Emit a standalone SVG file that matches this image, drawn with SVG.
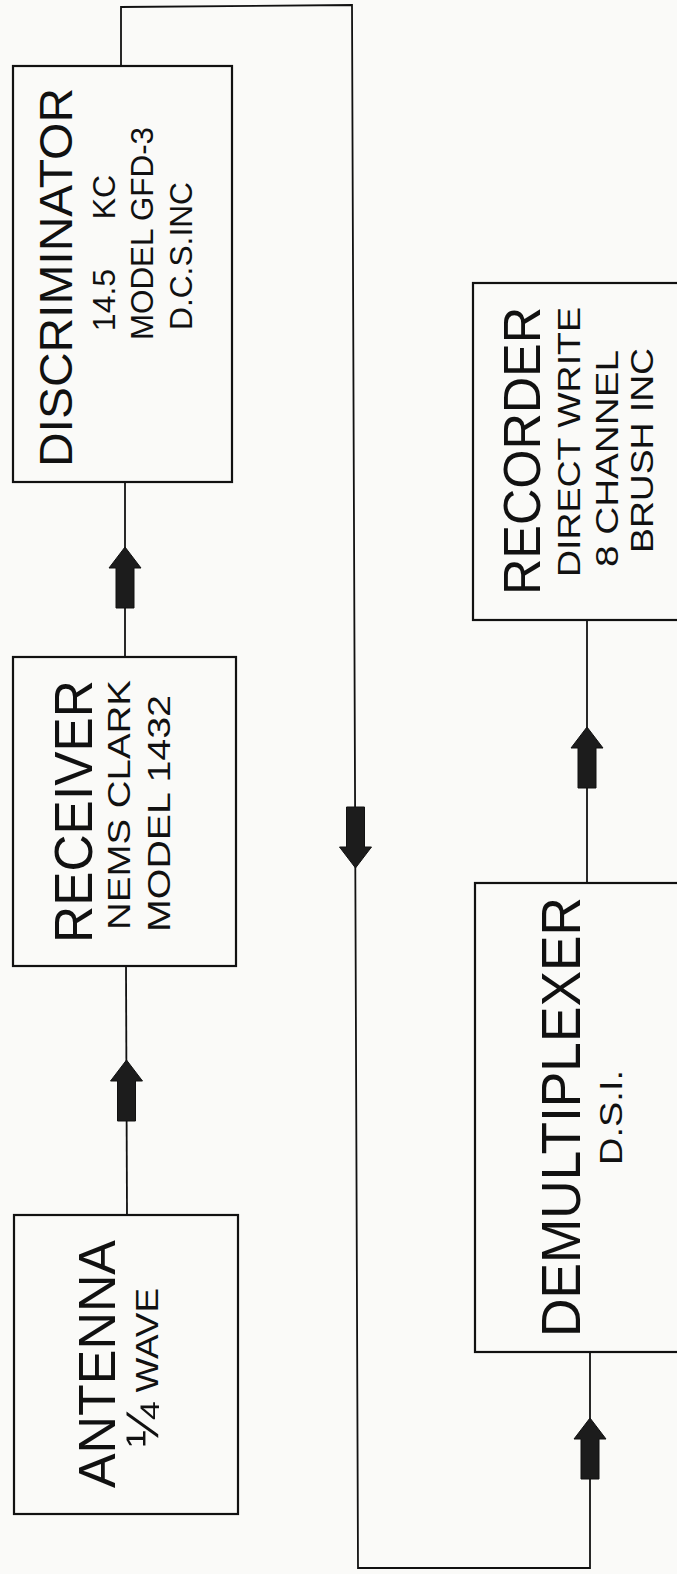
<svg xmlns="http://www.w3.org/2000/svg" width="677" height="1574" viewBox="0 0 677 1574">
<style>
.box{fill:none;stroke:#111;stroke-width:2.2}
.wire{fill:none;stroke:#111;stroke-width:1.8}
.arr{fill:#1c1c1c;stroke:#111;stroke-width:1}
.big{font-family:"Liberation Sans",Arial,sans-serif;fill:#111;text-anchor:middle}
.sub{font-family:"Liberation Sans",Arial,sans-serif;fill:#111;text-anchor:middle;font-size:32px}
</style>
<defs>
<path id="arrow" d="M0,0 L16,21 L9,21 L9,61 L-9,61 L-9,21 L-16,21 Z"/>
</defs>
<rect x="0" y="0" width="677" height="1574" fill="#fafaf8"/>

<g id="connectors">
<line class="wire" x1="127" y1="1215" x2="126" y2="966"/>
<line class="wire" x1="125" y1="657" x2="125" y2="482"/>
<polyline class="wire" points="121,66 121,7 352,5 358,1568 590,1568 590,1352"/>
<line class="wire" x1="587" y1="883" x2="587" y2="620"/>
<use href="#arrow" class="arr" transform="translate(126.5,1060)"/>
<use href="#arrow" class="arr" transform="translate(125,547)"/>
<use href="#arrow" class="arr" transform="translate(355.5,868) rotate(180)"/>
<use href="#arrow" class="arr" transform="translate(587,727)"/>
<use href="#arrow" class="arr" transform="translate(590,1418)"/>
</g>

<g id="discriminator">
<rect class="box" x="13" y="66" width="219" height="416"/>
<text class="big" font-size="47" textLength="379" lengthAdjust="spacingAndGlyphs" transform="translate(72,277.5) rotate(-90)">DISCRIMINATOR</text>
<text class="sub" transform="translate(115,300) rotate(-90)">14.5</text>
<text class="sub" transform="translate(115,197) rotate(-90)">KC</text>
<text class="sub" textLength="213" lengthAdjust="spacingAndGlyphs" transform="translate(153,233.5) rotate(-90)">MODEL GFD-3</text>
<text class="sub" textLength="148" lengthAdjust="spacingAndGlyphs" transform="translate(192,256) rotate(-90)">D.C.S.INC</text>
</g>

<g id="receiver">
<rect class="box" x="13" y="657" width="223" height="309"/>
<text class="big" font-size="53" textLength="263" lengthAdjust="spacingAndGlyphs" transform="translate(92,811.5) rotate(-90)">RECEIVER</text>
<text class="sub" textLength="250" lengthAdjust="spacingAndGlyphs" transform="translate(130,805) rotate(-90)">NEMS CLARK</text>
<text class="sub" textLength="237" lengthAdjust="spacingAndGlyphs" transform="translate(170,813.5) rotate(-90)">MODEL 1432</text>
</g>

<g id="antenna">
<rect class="box" x="14" y="1215" width="224" height="299"/>
<text class="big" font-size="51" textLength="248" lengthAdjust="spacingAndGlyphs" transform="translate(115,1364) rotate(-90)">ANTENNA</text>
<text class="sub" textLength="159" lengthAdjust="spacingAndGlyphs" transform="translate(158,1367.5) rotate(-90)"><tspan font-size="46">¼</tspan> WAVE</text>
</g>

<g id="recorder">
<rect class="box" x="473" y="283" width="230" height="337"/>
<text class="big" font-size="51" textLength="288" lengthAdjust="spacingAndGlyphs" transform="translate(540,451) rotate(-90)">RECORDER</text>
<text class="sub" textLength="270" lengthAdjust="spacingAndGlyphs" transform="translate(580,442) rotate(-90)">DIRECT WRITE</text>
<text class="sub" textLength="217" lengthAdjust="spacingAndGlyphs" transform="translate(618,458.5) rotate(-90)">8 CHANNEL</text>
<text class="sub" textLength="205" lengthAdjust="spacingAndGlyphs" transform="translate(653,450.5) rotate(-90)">BRUSH INC</text>
</g>

<g id="demultiplexer">
<rect class="box" x="475" y="883" width="230" height="469"/>
<text class="big" font-size="55" textLength="440" lengthAdjust="spacingAndGlyphs" transform="translate(580,1117) rotate(-90)">DEMULTIPLEXER</text>
<text class="sub" textLength="95" lengthAdjust="spacingAndGlyphs" transform="translate(622,1117.5) rotate(-90)">D.S.I.</text>
</g>
</svg>
